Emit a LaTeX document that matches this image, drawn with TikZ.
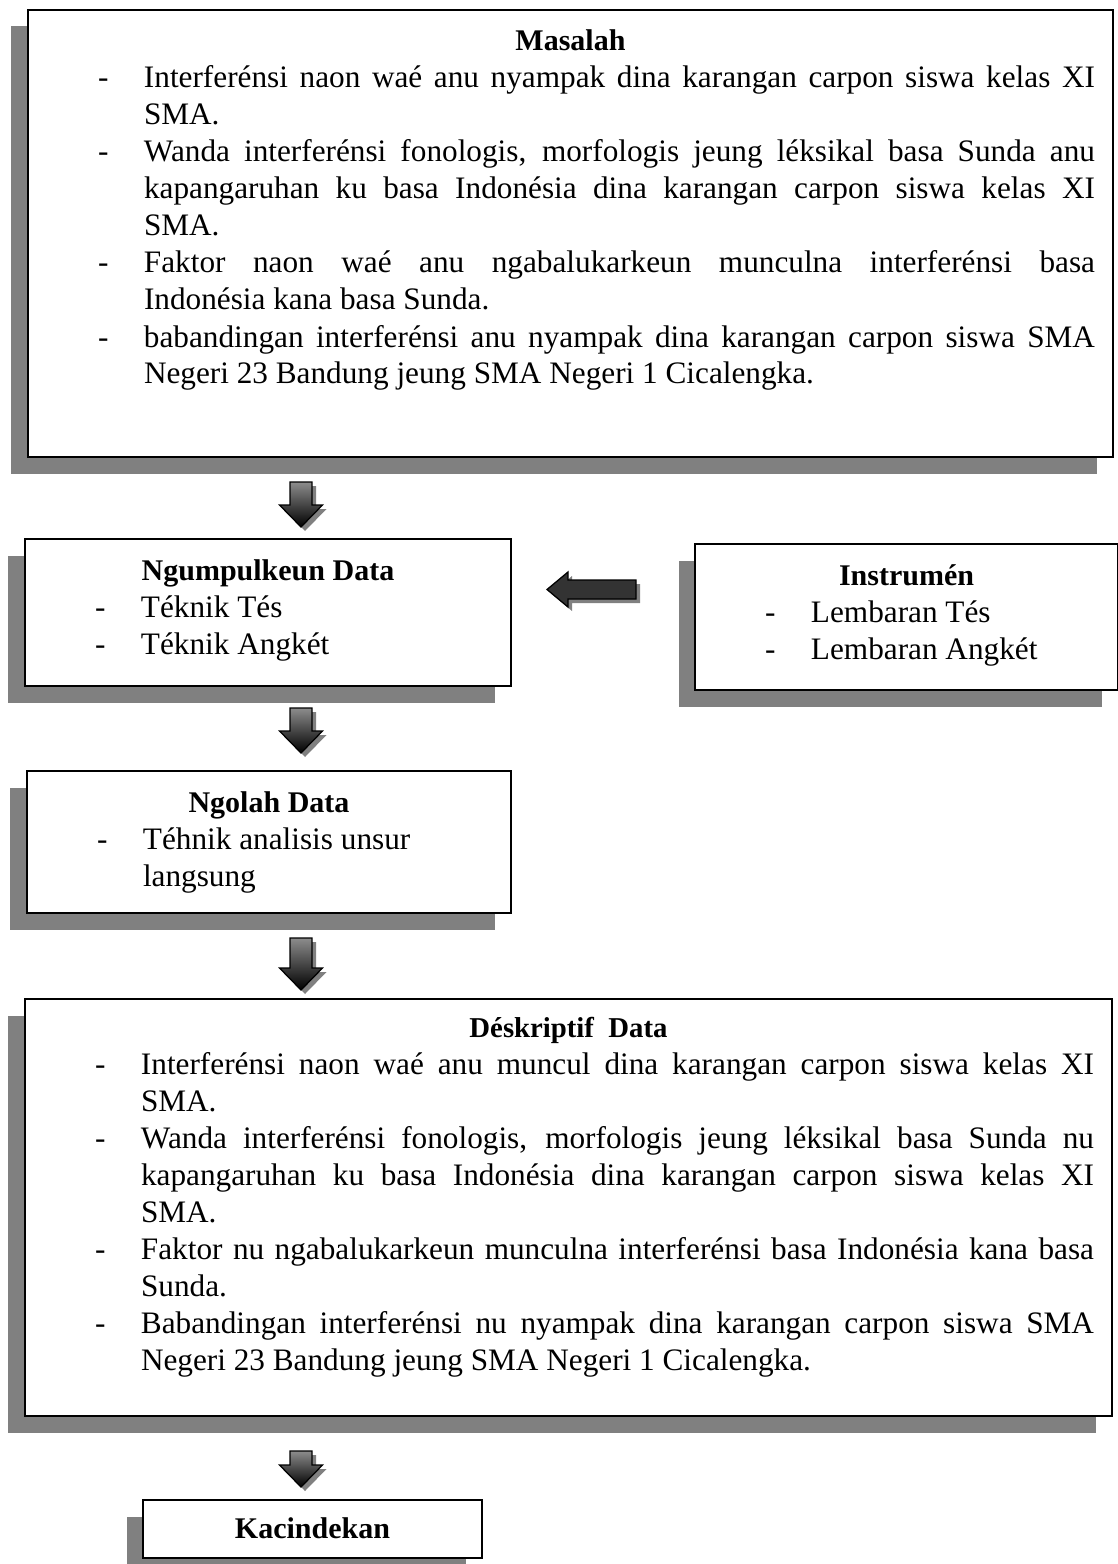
\documentclass[tikz,border=0pt]{standalone}
\usepackage{fontspec}
\setmainfont{Liberation Serif}
\usetikzlibrary{shadows}

\newlength{\upx}\setlength{\upx}{0.4pt}
\newlength{\kiri}\setlength{\kiri}{70\upx}
\newlength{\gantung}\setlength{\gantung}{46\upx}
\newlength{\kanan}\setlength{\kanan}{18\upx}
\newcommand{\isi}[4][14.8pt]{\begin{minipage}[t][#3\upx][t]{#2\upx}\fontsize{12.5pt}{#1}\selectfont\tolerance=10000\hyphenpenalty=10000 #4\end{minipage}}
\newcommand{\judul}[2][16.4pt]{{\centering\fontsize{12pt}{14.8pt}\selectfont\bfseries\rule{0pt}{#1}#2\par}}
\newcommand{\butir}[1]{{\leftskip=\kiri\rightskip=\kanan\hangindent=\gantung\hangafter=1\noindent\makebox[\gantung][l]{-}#1\par}}

\begin{document}
\begin{tikzpicture}[x=0.4pt, y=-0.4pt,
  kotak/.style={draw, line width=0.8pt, fill=white, inner sep=0pt, anchor=north west,
    drop shadow={shadow xshift=-6.6pt, shadow yshift=-6.6pt, fill=black!50, opacity=1}},
  panah/.style={draw=black, line width=0.5pt, top color=black!45, bottom color=black,
    drop shadow={shadow xshift=1.6pt, shadow yshift=-1.6pt, fill=black!50, opacity=1}}]
\useasboundingbox (0,0) rectangle (1118,1564);
% Masalah
\node[kotak] (masalah) at (27,9) {\isi{1085}{447}{%
  \judul{Masalah}
  \butir{Interferénsi naon waé anu nyampak dina karangan carpon siswa kelas XI\linebreak SMA.}
  \butir{Wanda interferénsi fonologis, morfologis jeung léksikal basa Sunda anu\linebreak kapangaruhan ku basa Indonésia dina karangan carpon siswa kelas XI\linebreak SMA.}
  \butir{Faktor naon waé anu ngabalukarkeun munculna interferénsi basa\linebreak Indonésia kana basa Sunda.}
  \butir{babandingan interferénsi anu nyampak dina karangan carpon siswa SMA\linebreak Negeri 23 Bandung jeung SMA Negeri 1 Cicalengka.}}};
% Ngumpulkeun Data
\node[kotak] (ngumpul) at (24,538) {\isi{486}{147}{%
  \judul{Ngumpulkeun Data}
  \butir{Téknik Tés}
  \butir{Téknik Angkét}}};
% Instrumen
\node[kotak] (instrumen) at (694,543) {\isi{423}{146}{%
  \judul{Instrumén}
  \butir{Lembaran Tés}
  \butir{Lembaran Angkét}}};
% Ngolah Data
\node[kotak] (ngolah) at (26,770) {\isi{484}{142}{%
  \judul{Ngolah Data}
  \butir{Téhnik analisis unsur\\langsung}}};
% Deskriptif Data
\node[kotak] (deskriptif) at (24,998) {\isi{1087}{417}{%
  \judul[15.2pt]{\fontsize{11.5pt}{13pt}\selectfont Déskriptif\ \ Data}
  \butir{Interferénsi naon waé anu muncul dina karangan carpon siswa kelas XI\linebreak SMA.}
  \butir{Wanda interferénsi fonologis, morfologis jeung léksikal basa Sunda nu\linebreak kapangaruhan ku basa Indonésia dina karangan carpon siswa kelas XI\linebreak SMA.}
  \butir{Faktor nu ngabalukarkeun munculna interferénsi basa Indonésia kana basa\linebreak Sunda.}
  \butir{Babandingan interferénsi nu nyampak dina karangan carpon siswa SMA\linebreak Negeri 23 Bandung jeung SMA Negeri 1 Cicalengka.}}};
% Kacindekan
\node[kotak] (kacindekan) at (142,1499) {\isi{339}{58}{%
  \judul[15.2pt]{Kacindekan}}};
% panah ka handap
\foreach \ya/\yb in {482/527, 708/753, 938/990, 1451/1487}
  \draw[panah] (290,\ya) -- (312,\ya) -- (312,\yb-22) -- (322.5,\yb-22)
    -- (301,\yb) -- (279.5,\yb-22) -- (290,\yb-22) -- cycle;
% panah ka kenca
\draw[panah, top color=black!80, middle color=black, bottom color=black!80]
  (636,580) -- (568,580) -- (568,572) -- (547,589.5) -- (568,607) -- (568,599) -- (636,599) -- cycle;
\end{tikzpicture}
\end{document}
